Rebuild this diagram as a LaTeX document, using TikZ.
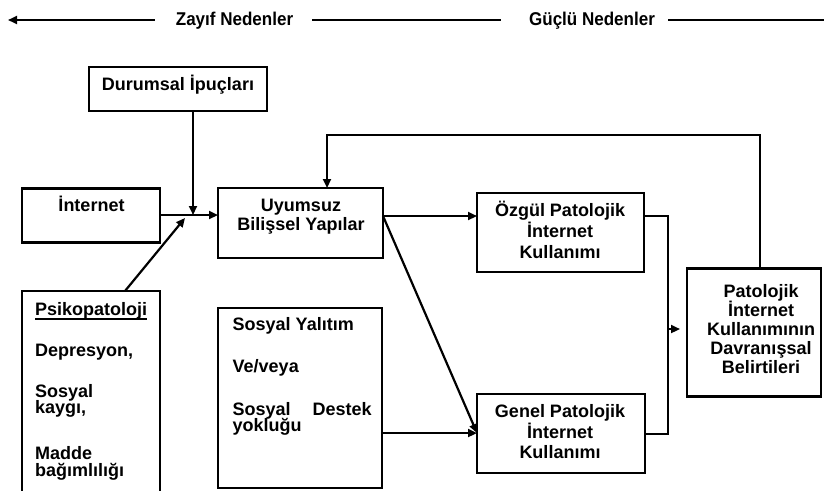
\documentclass[tikz,border=0pt]{standalone}
\usepackage{fontspec}
\setmainfont{Liberation Sans}
\newfontfamily\headfont{Liberation Sans}[FakeStretch=0.92]
\usetikzlibrary{arrows.meta}
\begin{document}
\begin{tikzpicture}[x=1pt,y=-1pt,
  lw/.style={line width=2.2pt},
  box/.style={draw,lw,rectangle,inner sep=0pt,outer sep=0pt,anchor=north west},
  txt/.style={font=\fontsize{18}{19}\selectfont\bfseries,inner sep=0pt,anchor=base},
  ltxt/.style={txt,anchor=base west},
  head/.style={font=\headfont\fontsize{18.5}{20}\selectfont\bfseries,inner sep=0pt,anchor=base},
  conn/.style={lw},
  arr/.style={lw,-{Triangle[length=9pt,width=8pt]}},
]
\useasboundingbox (0,0) rectangle (824,490);
\clip (0,0) rectangle (824,490);

% header
\node[head] (weak) at (234.5,25.7) {Zayıf Nedenler};
\node[head] (strong) at (592,25.7) {Güçlü Nedenler};
\coordinate (hl) at (8,20);
\coordinate (hr) at (830,20);
\draw[arr,shorten <=21pt] (weak.west |- hl) -- (hl);
\draw[conn,shorten <=19pt,shorten >=28pt] (weak.east |- hl) -- (strong.west |- hl);
\draw[conn,shorten <=13pt] (strong.east |- hl) -- (hr);

% boxes
\node[box,minimum width=178pt,minimum height=44pt] (cues) at (89,67) {};
\node[txt] (cues-t) at (178,90) {Durumsal İpuçları};

\node[box,minimum width=138pt,minimum height=54pt] (net) at (22,188.5) {};
\node[txt] (net-t) at (91.5,211.7) {İnternet};

\node[box,minimum width=165pt,minimum height=70pt] (mal) at (218,188) {};
\node[txt] (mal-1) at (301,211.5) {Uyumsuz};
\node[txt] (mal-2) at (301,230.5) {Bilişsel Yapılar};

\node[box,minimum width=138pt,minimum height=230pt] (psy) at (22,291) {};
\node[ltxt] (psy-1) at (35,315) {Psikopatoloji};
\draw[line width=1.6pt] ([yshift=-3.8pt]psy-1.base west) -- ([yshift=-3.8pt]psy-1.base east);
\node[ltxt] (psy-2) at (35,356.7) {Depresyon,};
\node[ltxt] (psy-3) at (35,397) {Sosyal};
\node[ltxt] (psy-4) at (35,413.5) {kaygı,};
\node[ltxt] (psy-5) at (35,459.5) {Madde};
\node[ltxt] (psy-6) at (35,476) {bağımlılığı};

\node[box,minimum width=164pt,minimum height=180pt] (soc) at (218,308) {};
\node[ltxt] (soc-1) at (232.5,330.7) {Sosyal Yalıtım};
\node[ltxt] (soc-2) at (232.5,372.7) {Ve/veya};
\node[ltxt] (soc-3) at (232.5,415) {\makebox[139pt][s]{Sosyal Destek}};
\node[ltxt] (soc-4) at (232.5,431.7) {yokluğu};

\node[box,minimum width=167pt,minimum height=79pt] (spec) at (477,193) {};
\foreach \t [count=\i] in {Özgül Patolojik, İnternet, Kullanımı}
  \node[txt] (spec-\i) at (560,{216.7+20.8*(\i-1)}) {\t};

\node[box,minimum width=168pt,minimum height=79pt] (gen) at (477,394) {};
\foreach \t [count=\i] in {Genel Patolojik, İnternet, Kullanımı}
  \node[txt] (gen-\i) at (560,{417.3+20.8*(\i-1)}) {\t};

\node[box,minimum width=134pt,minimum height=128pt] (beh) at (687,268.5) {};
\foreach \t [count=\i] in {Patolojik, İnternet, Kullanımının, Davranışsal, Belirtileri}
  \node[txt] (beh-\i) at (761,{297+19.1*(\i-1)}) {\t};

% connectors
\coordinate (j) at (193,215);
\coordinate (jd) at (185,218);
\coordinate (pj) at (125,291);
\draw[arr] (cues.south -| j) -- (j);
\draw[arr] (net.east |- j) -- (mal.west |- j);
\draw[arr] (pj) -- (jd);

\coordinate (fb) at (760,135);
\coordinate (fbl) at (327,135);
\draw[arr] (beh.north -| fb) -- (fb) -- (fbl) -- (mal.north -| fbl);

\coordinate (y1) at (0,216);
\coordinate (y2) at (0,433);
\coordinate (y3) at (0,329);
\coordinate (y4) at (0,434);
\coordinate (mx) at (668,0);
\draw[arr] (mal.east |- y1) -- (spec.west |- y1);
\draw[arr] (mal.east |- y1) -- (gen.west |- y2);
\draw[arr] (soc.east |- y2) -- (gen.west |- y2);
\draw[conn] (spec.east |- y1) -- (mx |- y1) -- (mx |- y4) -- (gen.east |- y4);
\draw[arr,shorten >=7pt] (mx |- y3) -- (beh.west |- y3);
\end{tikzpicture}
\end{document}
